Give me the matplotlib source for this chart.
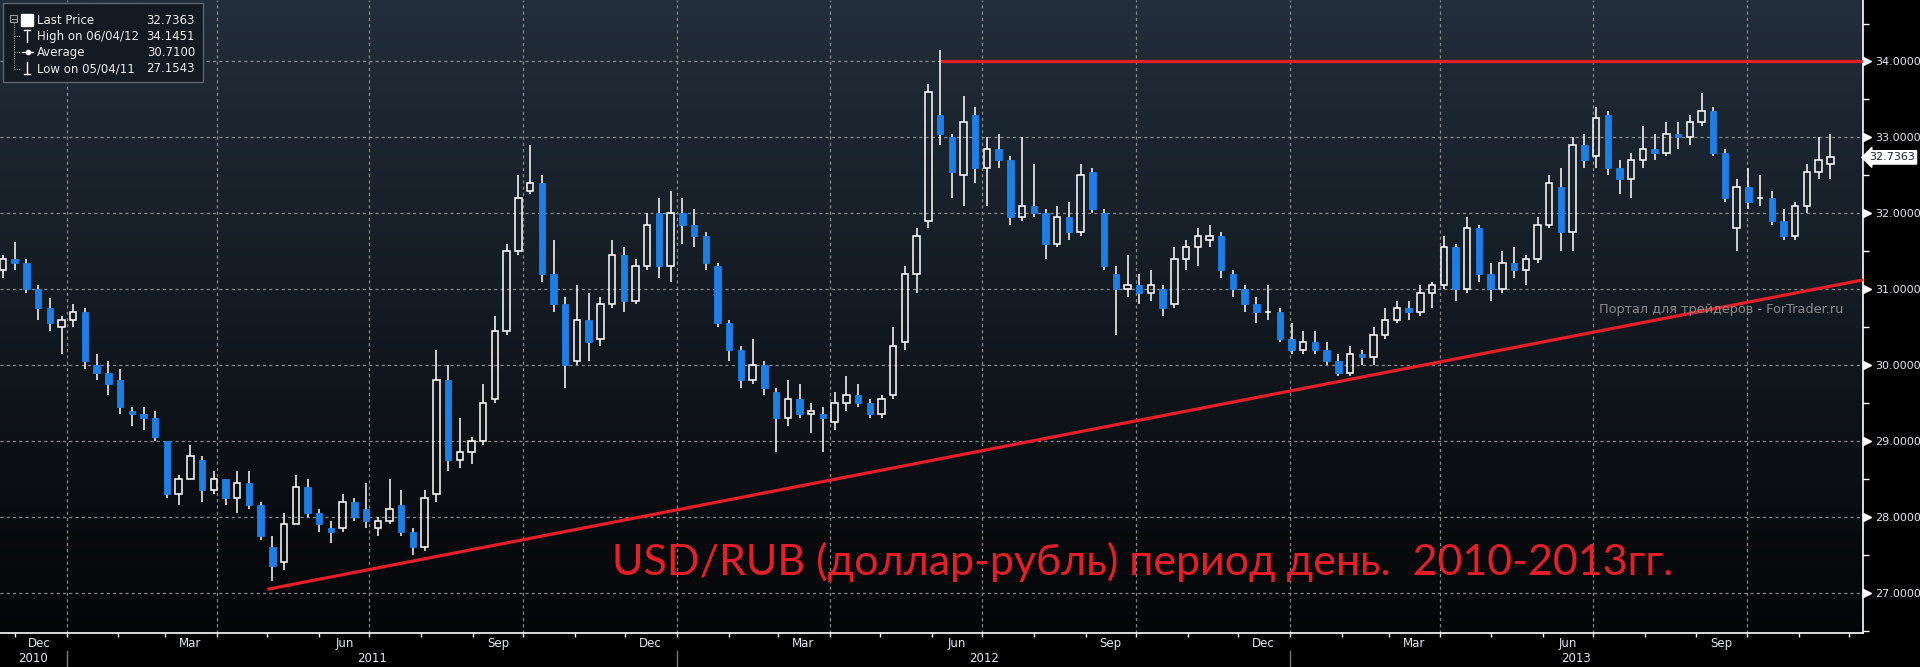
import numpy as np
import pandas as pd
import matplotlib
matplotlib.use("Agg")
import matplotlib.pyplot as plt
import matplotlib.dates as mdates
from matplotlib.patches import Rectangle
from matplotlib.lines import Line2D
from matplotlib.transforms import blended_transform_factory

# weekly USD/RUB bars (week starting Monday)
week_start = pd.date_range("2010-11-22", periods=157, freq="W-MON")

o = [31.25, 31.40, 31.35, 31.00, 30.75, 30.50, 30.60, 30.70, 30.00, 29.90,
     29.80, 29.40, 29.35, 29.30, 29.00, 28.30, 28.50, 28.75, 28.35, 28.50,
     28.25, 28.45, 28.15, 27.60, 27.40, 27.90, 28.40, 28.05, 27.85, 27.85,
     28.20, 28.10, 27.85, 27.95, 28.15, 27.80, 27.60, 28.30, 29.80, 28.75,
     28.85, 29.00, 29.55, 30.45, 31.50, 32.30, 32.40, 31.20, 30.80, 30.05,
     30.60, 30.35, 30.80, 31.45, 30.85, 31.30, 32.00, 31.30, 32.00, 31.85,
     31.70, 31.30, 30.55, 30.20, 29.80, 30.00, 29.65, 29.30, 29.55, 29.35,
     29.35, 29.25, 29.50, 29.60, 29.50, 29.35, 29.60, 30.30, 31.20, 31.90,
     33.30, 33.00, 32.50, 33.30, 32.60, 32.85, 32.70, 31.95, 32.10, 32.00,
     31.60, 31.95, 31.75, 32.55, 32.00, 31.20, 31.00, 31.05, 30.95, 31.00,
     30.80, 31.40, 31.55, 31.65, 31.70, 31.20, 31.00, 30.80, 30.70, 30.70,
     30.35, 30.20, 30.30, 30.20, 30.05, 29.90, 30.15, 30.10, 30.40, 30.60,
     30.75, 30.70, 30.95, 31.05, 31.55, 31.00, 31.80, 31.20, 31.00, 31.35,
     31.25, 31.40, 31.85, 32.35, 31.75, 32.90, 32.75, 33.30, 32.60, 32.45,
     32.70, 32.85, 32.80, 33.05, 33.00, 33.20, 33.35, 32.80, 31.80, 32.35,
     32.20, 32.20, 31.90, 31.70, 32.10, 32.55, 32.65]
h = [31.45, 31.62, 31.40, 31.05, 30.88, 30.65, 30.80, 30.75, 30.15, 30.05,
     29.95, 29.45, 29.45, 29.40, 29.00, 28.55, 28.95, 28.80, 28.60, 28.50,
     28.60, 28.60, 28.20, 27.75, 28.05, 28.55, 28.50, 28.10, 27.95, 28.30,
     28.25, 28.45, 28.00, 28.50, 28.35, 27.85, 28.35, 30.20, 30.00, 29.30,
     29.05, 29.75, 30.65, 31.60, 32.50, 32.90, 32.50, 31.65, 30.90, 31.05,
     30.95, 30.90, 31.65, 31.55, 31.40, 32.00, 32.20, 32.30, 32.20, 32.05,
     31.75, 31.35, 30.60, 30.25, 30.35, 30.05, 29.70, 29.80, 29.75, 29.50,
     29.45, 29.65, 29.85, 29.75, 29.55, 29.60, 30.50, 31.30, 31.80, 33.70,
     34.15, 33.05, 33.55, 33.40, 33.00, 33.05, 32.75, 33.00, 32.65, 32.05,
     32.10, 32.15, 32.65, 32.60, 32.05, 31.30, 31.45, 31.20, 31.25, 31.05,
     31.55, 31.65, 31.80, 31.85, 31.75, 31.25, 31.05, 30.90, 31.05, 30.75,
     30.55, 30.45, 30.45, 30.30, 30.15, 30.25, 30.20, 30.50, 30.75, 30.85,
     30.85, 31.05, 31.10, 31.70, 31.60, 31.95, 31.85, 31.35, 31.50, 31.55,
     31.45, 31.95, 32.50, 32.60, 33.00, 33.05, 33.40, 33.35, 32.70, 32.80,
     33.15, 33.05, 33.20, 33.20, 33.30, 33.58, 33.40, 32.85, 32.45, 32.60,
     32.50, 32.30, 32.05, 32.15, 32.65, 33.00, 33.05]
l = [31.15, 31.25, 30.95, 30.60, 30.45, 30.15, 30.50, 29.95, 29.80, 29.60,
     29.35, 29.20, 29.15, 29.00, 28.25, 28.15, 28.50, 28.20, 28.30, 28.15,
     28.05, 28.10, 27.70, 27.15, 27.30, 27.90, 28.00, 27.80, 27.65, 27.80,
     27.95, 27.85, 27.75, 27.90, 27.75, 27.50, 27.55, 28.20, 28.60, 28.65,
     28.70, 28.95, 29.50, 30.40, 31.45, 32.25, 31.10, 30.70, 29.70, 30.00,
     30.05, 30.25, 30.75, 30.70, 30.80, 31.25, 31.15, 31.10, 31.60, 31.55,
     31.25, 30.50, 30.05, 29.70, 29.75, 29.60, 28.85, 29.20, 29.30, 29.10,
     28.85, 29.15, 29.40, 29.45, 29.30, 29.30, 29.55, 30.20, 30.95, 31.80,
     32.90, 32.20, 32.10, 32.40, 32.10, 32.60, 31.85, 31.90, 31.95, 31.40,
     31.55, 31.65, 31.70, 32.00, 31.25, 30.40, 30.90, 30.80, 30.85, 30.65,
     30.75, 31.25, 31.30, 31.55, 31.15, 30.90, 30.70, 30.55, 30.60, 30.30,
     30.15, 30.15, 30.15, 30.00, 29.85, 29.85, 30.00, 30.00, 30.35, 30.55,
     30.60, 30.65, 30.75, 31.00, 30.85, 30.95, 31.10, 30.85, 30.95, 31.15,
     31.05, 31.35, 31.80, 31.50, 31.50, 32.60, 32.60, 32.50, 32.25, 32.20,
     32.60, 32.70, 32.75, 32.85, 32.90, 33.15, 32.75, 32.15, 31.50, 32.05,
     32.10, 31.85, 31.65, 31.65, 32.00, 32.45, 32.45]
c = [31.40, 31.35, 31.00, 30.75, 30.55, 30.60, 30.70, 30.05, 29.90, 29.75,
     29.45, 29.35, 29.30, 29.05, 28.30, 28.50, 28.80, 28.35, 28.50, 28.25,
     28.45, 28.15, 27.75, 27.35, 27.90, 28.40, 28.05, 27.90, 27.80, 28.20,
     28.00, 27.95, 27.95, 28.10, 27.80, 27.60, 28.25, 29.80, 28.75, 28.85,
     29.00, 29.50, 30.45, 31.50, 32.20, 32.40, 31.20, 30.80, 30.00, 30.60,
     30.30, 30.80, 31.45, 30.85, 31.30, 31.85, 31.30, 32.00, 31.85, 31.70,
     31.35, 30.55, 30.20, 29.80, 30.00, 29.70, 29.30, 29.55, 29.35, 29.40,
     29.30, 29.50, 29.60, 29.50, 29.35, 29.55, 30.25, 31.20, 31.70, 33.60,
     33.05, 32.55, 33.20, 32.60, 32.85, 32.70, 31.95, 32.10, 32.00, 31.60,
     31.95, 31.75, 32.50, 32.05, 31.30, 31.00, 31.05, 30.95, 31.05, 30.75,
     31.40, 31.55, 31.70, 31.70, 31.25, 31.00, 30.80, 30.70, 30.70, 30.35,
     30.20, 30.30, 30.20, 30.05, 29.90, 30.15, 30.10, 30.40, 30.60, 30.75,
     30.70, 30.95, 31.05, 31.55, 31.00, 31.80, 31.20, 31.00, 31.35, 31.25,
     31.40, 31.85, 32.40, 31.75, 32.90, 32.70, 33.25, 32.60, 32.45, 32.70,
     32.85, 32.80, 33.05, 33.00, 33.20, 33.35, 32.80, 32.20, 32.35, 32.15,
     32.20, 31.90, 31.70, 32.10, 32.55, 32.70, 32.7363]

# drawn support/resistance lines (date, level)
resist_dates = ["2012-06-07", "2013-12-09"]
resist_levels = [34.0, 34.0]
trend_dates = ["2011-05-02", "2013-12-09"]
trend_levels = [27.05, 31.12]

y_ticks = [27, 28, 29, 30, 31, 32, 33, 34]
last_price = 32.7363
legend_rows = [("Last Price", "32.7363"), ("High on 06/04/12", "34.1451"),
               ("Average", "30.7100"), ("Low on 05/04/11", "27.1543")]
title = "USD/RUB (доллар-рубль) период день.  2010-2013гг."
watermark = "Портал для трейдеров - ForTrader.ru"

W, H = 1920, 667
fig = plt.figure(figsize=(W / 100, H / 100), dpi=100, facecolor="black")
ax = fig.add_axes([0, 34 / H, 1863 / W, 633 / H])
ax.set_facecolor("black")

xmin = mdates.date2num(pd.Timestamp("2010-11-22 06:00"))
xmax = mdates.date2num(pd.Timestamp("2013-12-09 12:00"))
ax.set_xlim(xmin, xmax)
ax.set_ylim(26.47, 34.81)

# background gradient
grad = np.linspace(0, 1, 256).reshape(-1, 1)
top = np.array([0x22, 0x2e, 0x3a]) / 255
bot = np.array([0x04, 0x05, 0x07]) / 255
img = top[None, None, :] * (1 - grad[:, :, None]) + bot[None, None, :] * grad[:, :, None]
ax.imshow(img, extent=[0, 1, 0, 1], transform=ax.transAxes, aspect="auto", zorder=0)

# grid
for q in pd.date_range("2011-01-01", "2013-10-01", freq="QS"):
    ax.axvline(mdates.date2num(q), color="#8a8a8a", lw=0.9, ls=(0, (2.5, 2.5)), zorder=1)
for v in y_ticks:
    ax.axhline(v, color="#8a8a8a", lw=0.9, ls=(0, (2.5, 2.5)), zorder=1)

# candles
x = mdates.date2num(week_start) + 2
o, h, l, c = map(np.array, (o, h, l, c))
up = c >= o
bw = 3.8
blue = "#1d7fe6"
lo_b = np.minimum(o, c)
hi_b = np.maximum(o, c)
ax.vlines(x[up], l[up], lo_b[up], color="white", lw=1.1, zorder=3)
ax.vlines(x[up], hi_b[up], h[up], color="white", lw=1.1, zorder=3)
ax.vlines(x[~up], l[~up], h[~up], color="white", lw=1.1, zorder=3)
ax.bar(x[up], hi_b[up] - lo_b[up], bottom=lo_b[up], width=bw,
       facecolor="none", edgecolor="white", lw=1.1, zorder=4)
ax.bar(x[~up], hi_b[~up] - lo_b[~up], bottom=lo_b[~up], width=bw,
       color=blue, edgecolor=blue, lw=0.6, zorder=4)

# red lines
red = "#e61e28"
ax.plot(mdates.date2num(pd.to_datetime(resist_dates)), resist_levels, color=red, lw=2.3, zorder=5)
ax.plot(mdates.date2num(pd.to_datetime(trend_dates)), trend_levels, color=red, lw=2.3, zorder=5)

# texts on chart
ax.text(612 / 1863, (633 - 575) / 633, title, transform=ax.transAxes, color=red,
        fontsize=31, family=["Lato", "DejaVu Sans"], va="baseline", ha="left", zorder=6)
ax.text(1843 / 1863, (633 - 310) / 633, watermark, transform=ax.transAxes, color="#8a8a8a",
        fontsize=9.3, va="center", ha="right", zorder=6)

# axes styling
for s in ("top", "left"):
    ax.spines[s].set_visible(False)
ax.spines["right"].set_color("white")
ax.spines["bottom"].set_color("white")
ax.spines["right"].set_linewidth(1.2)
ax.spines["bottom"].set_linewidth(1.2)

ax.yaxis.tick_right()
ax.set_yticks(y_ticks)
ax.set_yticklabels([f"{v:.4f}" for v in y_ticks])
ax.set_yticks(np.arange(26.5, 34.6, 1.0), minor=True)
ax.tick_params(axis="y", which="major", length=0, pad=9, labelsize=8, labelcolor="#e4e8ee")
ax.tick_params(axis="y", which="minor", length=4, width=1, color="white", direction="out")

trans_y = blended_transform_factory(ax.transAxes, ax.transData)
ax.plot([1 + 4 / 1863] * len(y_ticks), y_ticks, ls="none", marker=">", ms=5.5,
        color="white", transform=trans_y, clip_on=False, zorder=7)
ax.text(1 + 6 / 1863, last_price, "32.7363", transform=trans_y, color="#14202c",
        fontsize=8, va="center", ha="left",
        bbox=dict(boxstyle="larrow,pad=0.15", fc="white", ec="white"), clip_on=False, zorder=8)

# x axis: month ticks, quarter labels
ax.xaxis.set_minor_locator(mdates.MonthLocator())
ax.xaxis.set_major_locator(mdates.MonthLocator(bymonth=[3, 6, 9, 12], bymonthday=16))
ax.xaxis.set_major_formatter(mdates.DateFormatter("%b"))
ax.tick_params(axis="x", which="major", length=0, pad=3, labelsize=8.5, labelcolor="#e4e8ee")
ax.tick_params(axis="x", which="minor", length=3, width=1, color="white", direction="out")

trans_x = blended_transform_factory(ax.transData, ax.transAxes)
years = [("2010", xmin, mdates.date2num(pd.Timestamp("2011-01-01"))),
         ("2011", mdates.date2num(pd.Timestamp("2011-01-01")), mdates.date2num(pd.Timestamp("2012-01-01"))),
         ("2012", mdates.date2num(pd.Timestamp("2012-01-01")), mdates.date2num(pd.Timestamp("2013-01-01"))),
         ("2013", mdates.date2num(pd.Timestamp("2013-01-01")), xmax)]
for lab, a, b in years:
    ax.text((a + b) / 2, -(659 - 633) / 633, lab, transform=trans_x, color="#e4e8ee",
            fontsize=8.5, ha="center", va="center", clip_on=False)
for yr in ["2011-01-01", "2012-01-01", "2013-01-01"]:
    xx = mdates.date2num(pd.Timestamp(yr))
    ax.add_line(Line2D([xx, xx], [-(651 - 633) / 633, -(667 - 633) / 633], transform=trans_x,
                       color="#7a7a7a", lw=1, clip_on=False))

# legend box (figure pixel coords)
def fx(px):
    return px / W


def fy(py):
    return 1 - py / H


fig.patches.append(Rectangle((fx(3), fy(82)), fx(200), 79 / H, transform=fig.transFigure,
                             facecolor="#141a21", edgecolor="#60666e", lw=1, zorder=10))
gray = "#9a9a9a"
fig.patches.append(Rectangle((fx(10), fy(22)), fx(7), 7 / H, transform=fig.transFigure,
                             facecolor="none", edgecolor=gray, lw=0.8, zorder=11))
fig.lines.append(Line2D([fx(11.5), fx(15.5)], [fy(18.5), fy(18.5)], transform=fig.transFigure,
                        color=gray, lw=0.8, zorder=11))
fig.lines.append(Line2D([fx(13.5), fx(13.5)], [fy(22), fy(69)], transform=fig.transFigure,
                        color=gray, lw=0.8, ls=(0, (1, 1)), zorder=11))
for yy in (36, 52, 69):
    fig.lines.append(Line2D([fx(13.5), fx(20)], [fy(yy), fy(yy)], transform=fig.transFigure,
                            color=gray, lw=0.8, ls=(0, (1, 1)), zorder=11))
fig.patches.append(Rectangle((fx(21), fy(26)), fx(12), 12 / H, transform=fig.transFigure,
                             facecolor="white", edgecolor="white", zorder=11))
wl = dict(transform=fig.transFigure, color="white", lw=1, zorder=11)
fig.lines.append(Line2D([fx(27), fx(27)], [fy(30), fy(42)], **wl))
fig.lines.append(Line2D([fx(24), fx(30)], [fy(30), fy(30)], **wl))
fig.lines.append(Line2D([fx(22), fx(33)], [fy(52), fy(52)], **wl))
fig.lines.append(Line2D([fx(27.5)], [fy(52)], marker="o", ms=3, mfc="white", mec="white",
                        transform=fig.transFigure, zorder=12))
fig.lines.append(Line2D([fx(27), fx(27)], [fy(62), fy(74)], **wl))
fig.lines.append(Line2D([fx(24), fx(30)], [fy(74), fy(74)], **wl))
for i, (lab, val) in enumerate(legend_rows):
    yy = fy(20.5 + i * 16)
    fig.text(fx(37), yy, lab, color="#ececec", fontsize=8.5, va="center", ha="left", zorder=12)
    fig.text(fx(195), yy, val, color="#ececec", fontsize=8.5, va="center", ha="right", zorder=12)

fig.savefig("out.png", dpi=100, facecolor="black")
